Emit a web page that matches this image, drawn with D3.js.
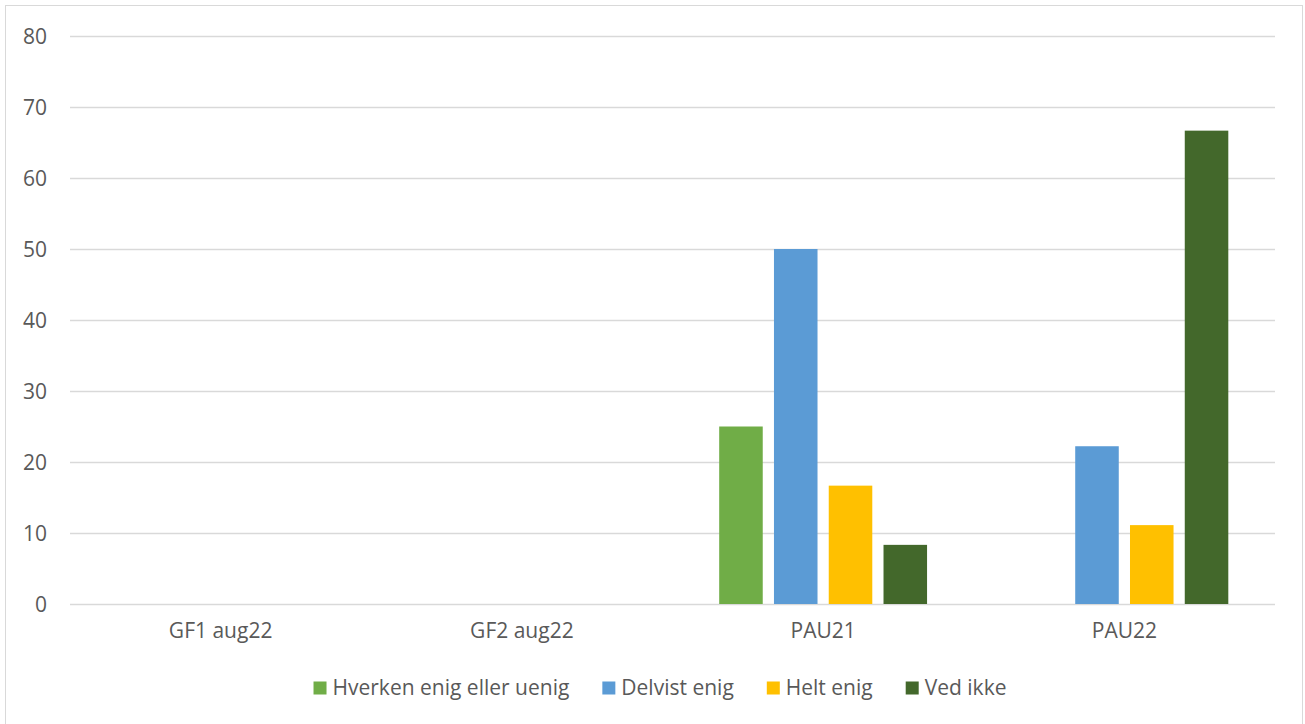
<!DOCTYPE html>
<html><head><meta charset="utf-8">
<script src="https://cdn.jsdelivr.net/npm/d3@7"></script>
<style>body{margin:0;background:#fff}svg{display:block}text{font-family:"Open Sans",sans-serif;fill:#595959}</style>
</head><body><svg id="c" width="1305" height="724"></svg>
<script>
const categories = ["GF1 aug22", "GF2 aug22", "PAU21", "PAU22"];
const seriesNames = ["Hverken enig eller uenig", "Delvist enig", "Helt enig", "Ved ikke"];
const seriesColors = ["#70ad47", "#5b9bd5", "#ffc000", "#43682b"];
const hverken = [0, 0, 25, 0];
const delvist = [0, 0, 50, 22.22];
const helt = [0, 0, 16.67, 11.11];
const vedIkke = [0, 0, 8.33, 66.67];
const yTicks = [0, 10, 20, 30, 40, 50, 60, 70, 80];
const seriesValues = [hverken, delvist, helt, vedIkke];

(function () {
const svg = d3.select("#c");
svg.append("rect").attr("x", 5.5).attr("y", 5.5).attr("width", 1297).attr("height", 730)
  .attr("fill", "#fff").attr("stroke", "#d9d9d9").attr("stroke-width", 1);

const pLeft = 70, pRight = 1275, pTop = 36, pBottom = 604;
const fs = 21;
const x = d3.scaleBand().domain(categories).range([pLeft, pRight]).paddingInner(0).paddingOuter(0);
const y = d3.scaleLinear().domain([0, 80]).range([pBottom, pTop]);
const groupW = x.bandwidth() * 0.69;
const xs = d3.scaleBand().domain(d3.range(seriesNames.length)).range([0, groupW]).paddingInner(0.205).paddingOuter(0);

const yAxis = d3.axisLeft(y).tickValues(yTicks).tickSize(-(pRight - pLeft)).tickPadding(23).tickFormat(d3.format("d"));
const gy = svg.append("g").attr("transform", `translate(${pLeft},0)`).call(yAxis);
gy.select(".domain").remove();
gy.selectAll(".tick line").attr("stroke", "#d9d9d9").attr("stroke-width", 1.3);
gy.selectAll(".tick text").attr("font-size", fs).attr("fill", "#595959").attr("dy", "0.35em");

seriesValues.forEach((vals, si) => {
  svg.append("g").selectAll("rect").data(categories.map((c, i) => ({c, v: vals[i]})).filter(d => d.v > 0))
    .join("rect")
    .attr("x", d => x(d.c) + (x.bandwidth() - groupW) / 2 + xs(si))
    .attr("width", xs.bandwidth())
    .attr("y", d => y(d.v))
    .attr("height", d => y(0) - y(d.v))
    .attr("fill", seriesColors[si]);
});

const xAxis = d3.axisBottom(x).tickSize(0).tickPadding(19);
const gx = svg.append("g").attr("transform", `translate(0,${pBottom})`).call(xAxis);
gx.select(".domain").remove();
gx.selectAll(".tick text").attr("font-size", fs).attr("fill", "#595959");

const lg = svg.append("g");
const items = lg.selectAll("g").data(seriesNames).join("g");
items.append("rect").attr("width", 13).attr("height", 13).attr("y", -6.5).attr("fill", (d, i) => seriesColors[i]);
items.append("text").attr("x", 19).attr("dy", "0.35em").attr("font-size", fs).text(d => d);
let cx = 0;
items.each(function () {
  const w = d3.select(this).select("text").node().getComputedTextLength();
  d3.select(this).attr("transform", `translate(${cx},0)`);
  cx += 19 + w + 33;
});
const total = cx - 33;
lg.attr("transform", `translate(${660 - total / 2},688)`);
})();
</script></body></html>
